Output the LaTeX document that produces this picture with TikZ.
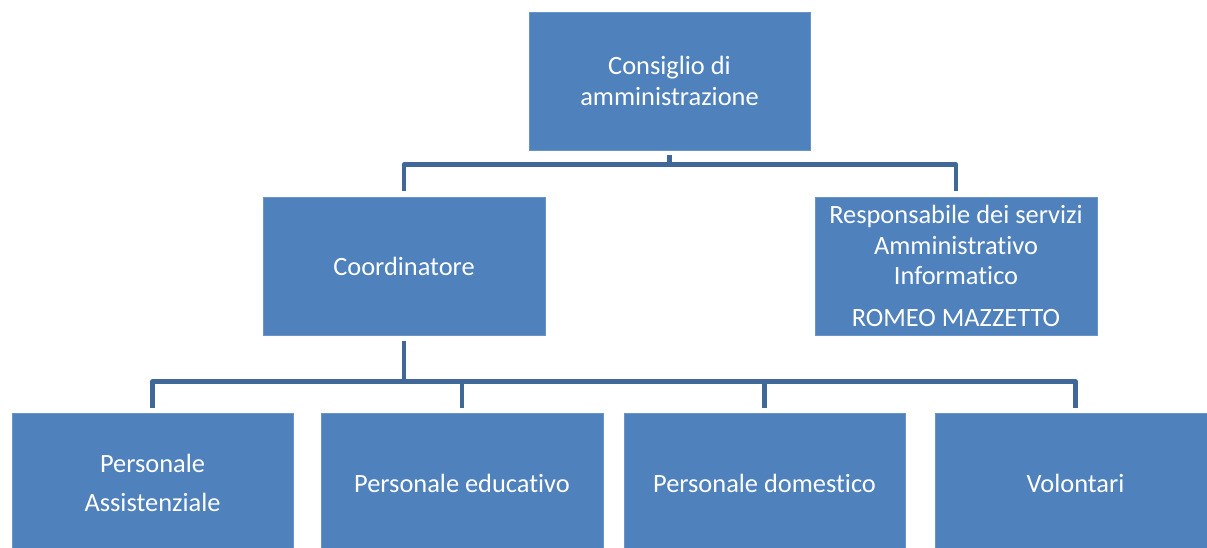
\documentclass[tikz,border=0pt]{standalone}
\usepackage{fontspec}
\setmainfont{Carlito}[RawFeature={-liga;-clig;-dlig}]
\definecolor{boxblue}{HTML}{4F81BD}
\definecolor{connblue}{HTML}{3F6898}
\begin{document}
\begin{tikzpicture}[x=1pt,y=-1pt,
  box/.style={rectangle, fill=boxblue, draw=boxblue!85!white, line width=0.8pt, text=white, align=center,
    inner sep=0pt, font=\fontsize{26.4}{30.5}\selectfont},
  conn/.style={draw=connblue, line width=4.6pt, line join=round}]
\useasboundingbox (0,0) rectangle (1207,547);
\clip (0,0) rectangle (1207,547);
% boxes
\node[box, minimum width=281pt, minimum height=138pt] (cda) at (669.5,81) {Consiglio di\\amministrazione};
\node[box, minimum width=282pt, minimum height=138pt] (coord) at (404,266) {Coordinatore};
\node[box, minimum width=282pt, minimum height=138pt] (resp) at (956,266) {Responsabile dei servizi\\Amministrativo\\Informatico\\[11pt]ROMEO MAZZETTO};
\node[box, minimum width=281pt, minimum height=140pt] (pa) at (152.5,483) {Personale\\[9pt]Assistenziale};
\node[box, minimum width=282pt, minimum height=140pt] (pe) at (462,483) {Personale educativo};
\node[box, minimum width=281pt, minimum height=140pt] (pd) at (764.5,483) {Personale domestico};
\node[box, minimum width=281pt, minimum height=140pt] (vo) at (1075.5,483) {Volontari};
% connectors
\coordinate (bus1) at (669.5,164.5);
\coordinate (bus2) at (404,381.5);
\draw[conn] ([yshift=-5pt]cda.south) -- (bus1);
\draw[conn] (bus1) -| ([yshift=5.5pt]coord.north);
\draw[conn] (bus1) -| ([yshift=5.5pt]resp.north);
\draw[conn] ([yshift=-6pt]coord.south) -- (bus2);
\draw[conn] (bus2) -| ([yshift=5pt]pa.north);
\draw[conn] (bus2) -| ([yshift=5pt]pe.north);
\draw[conn] (bus2) -| ([yshift=5pt]pd.north);
\draw[conn] (bus2) -| ([yshift=5pt]vo.north);
\end{tikzpicture}
\end{document}
